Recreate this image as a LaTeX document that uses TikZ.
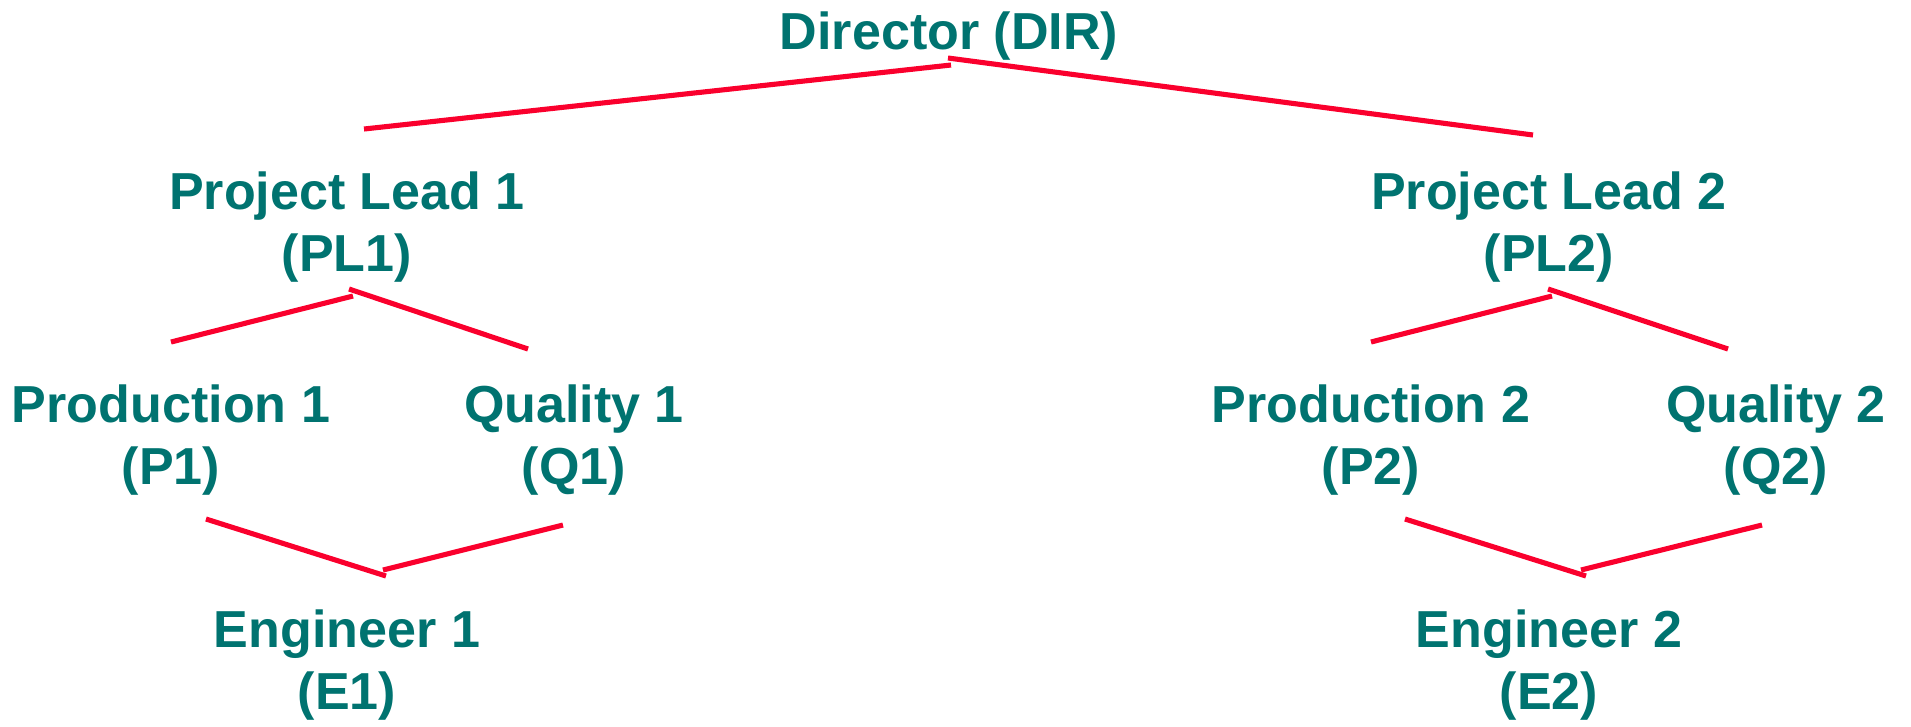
\documentclass[tikz,border=0pt]{standalone}
\usepackage{fontspec}
\setmainfont{Liberation Sans}
\usetikzlibrary{positioning}

\definecolor{orgteal}{RGB}{0,115,112}
\definecolor{orgred}{RGB}{250,0,45}

\begin{document}
\begin{tikzpicture}[x=0.01cm, y=-0.01cm,
    role/.style={anchor=base, align=center, inner sep=0pt, text=orgteal,
      font=\fontsize{14.8}{17.4}\selectfont\bfseries},
    link/.style={draw=orgred, line width=1.45pt}]
        \useasboundingbox (0,0) rectangle (1911,726);

        % Top level
        \node[role] (dir) at (949,49) {Director (DIR)};

        % Project leads
        \node[role] (pl1) at (347,271) {Project Lead 1\\(PL1)};
        \node[role] (pl2) at (1549,271) {Project Lead 2\\(PL2)};

        % Production and quality
        \node[role] (p1) at (171,484) {Production 1\\(P1)};
        \node[role] (q1) at (574,484) {Quality 1\\(Q1)};
        \node[role] (p2) at (1371,484) {Production 2\\(P2)};
        \node[role] (q2) at (1776,484) {Quality 2\\(Q2)};

        % Engineers
        \node[role] (e1) at (347,709) {Engineer 1\\(E1)};
        \node[role] (e2) at (1549,709) {Engineer 2\\(E2)};

        % Line ends
        \coordinate (dir-l) at (951,65);
        \coordinate (dir-r) at (948,58);
        \coordinate (pl1-in) at (364,129);
        \coordinate (pl2-in) at (1533,135);
        \coordinate (pl1-l) at (353,296);
        \coordinate (pl1-r) at (349,289);
        \coordinate (pl2-l) at (1552,296);
        \coordinate (pl2-r) at (1548,289);
        \coordinate (p1-in) at (171,342);
        \coordinate (q1-in) at (528,349);
        \coordinate (p2-in) at (1371,342);
        \coordinate (q2-in) at (1728,349);
        \coordinate (p1-out) at (206,519);
        \coordinate (q1-out) at (563,525);
        \coordinate (p2-out) at (1405,519);
        \coordinate (q2-out) at (1762,525);
        \coordinate (e1-l) at (386,576);
        \coordinate (e1-r) at (383,570);
        \coordinate (e2-l) at (1586,576);
        \coordinate (e2-r) at (1581,570);

        % Reporting lines
        \draw[link] (dir-l) -- (pl1-in);
        \draw[link] (dir-r) -- (pl2-in);
        \draw[link] (pl1-l) -- (p1-in);
        \draw[link] (pl1-r) -- (q1-in);
        \draw[link] (pl2-l) -- (p2-in);
        \draw[link] (pl2-r) -- (q2-in);
        \draw[link] (p1-out) -- (e1-l);
        \draw[link] (q1-out) -- (e1-r);
        \draw[link] (p2-out) -- (e2-l);
        \draw[link] (q2-out) -- (e2-r);
    \end{tikzpicture}
\end{document}
